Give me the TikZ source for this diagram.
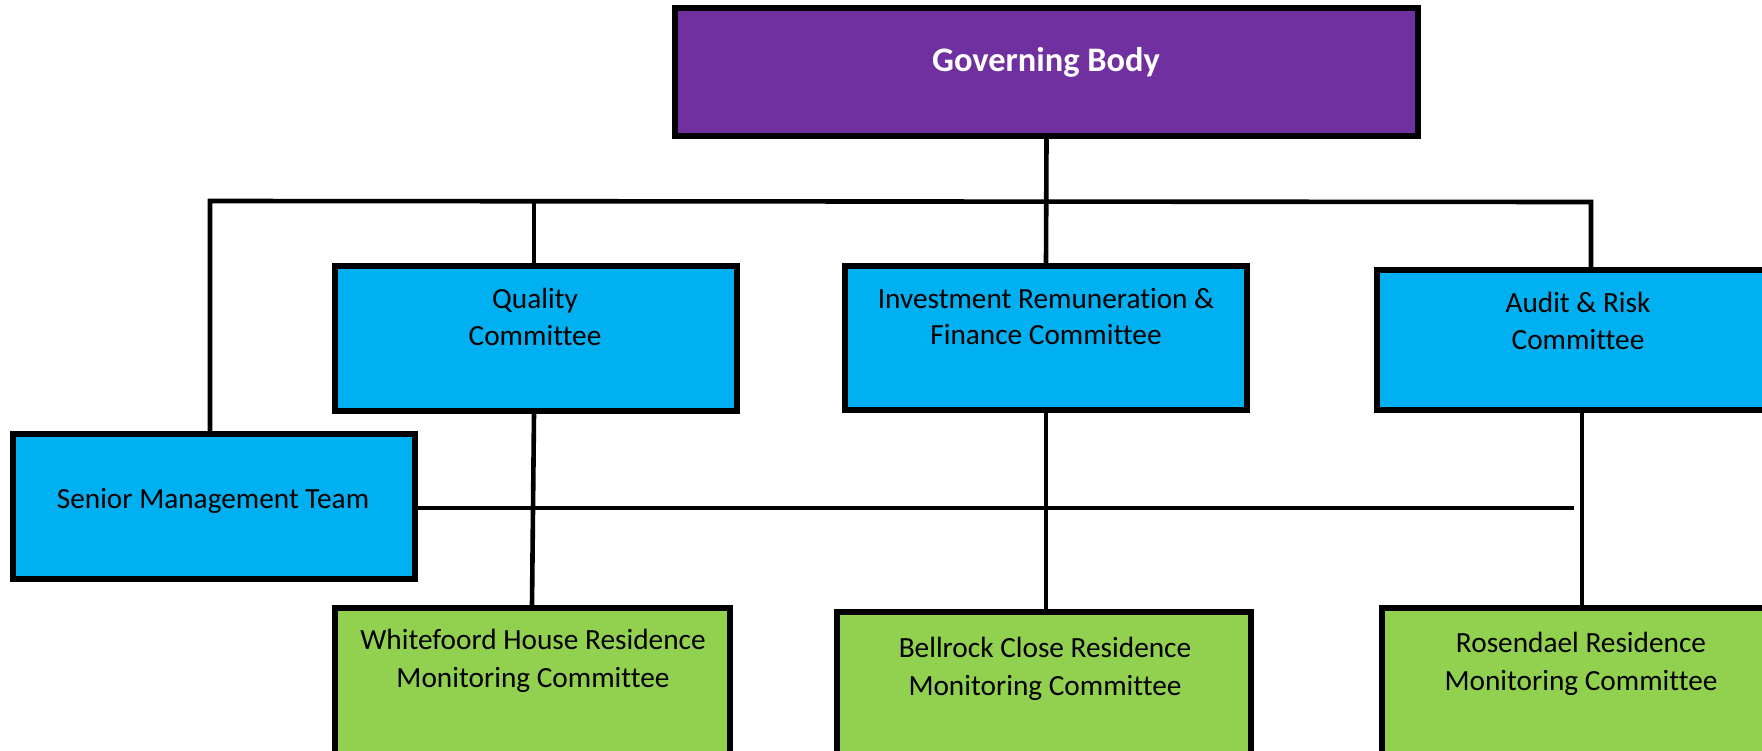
\documentclass[tikz,border=0pt]{standalone}
\usepackage{fontspec}
\setmainfont{Carlito}[Ligatures=NoCommon]
\definecolor{gbpurple}{HTML}{7030A0}
\definecolor{cblue}{HTML}{00B0F0}
\definecolor{rgreen}{HTML}{92D050}
\begin{document}
\begin{tikzpicture}[x=0.5pt,y=-0.5pt,
  box/.style={draw=black,line width=2.6pt,rectangle,inner sep=0pt},
  gbbox/.style={box,fill=gbpurple},
  bluebox/.style={box,fill=cblue},
  greenbox/.style={box,fill=rgreen},
  lbl/.style={inner sep=0pt,align=center,font=\fontsize{14.65}{18.3}\selectfont},
  glbl/.style={inner sep=0pt,align=center,font=\fontsize{14.65}{19}\selectfont},
  gblbl/.style={inner sep=0pt,align=center,text=white,font=\fontsize{17.2}{20}\selectfont\bfseries},
  conn/.style={draw=black,line width=2.3pt},
  connthin/.style={draw=black,line width=2.1pt}]
\useasboundingbox (0,0) rectangle (1762,750);
\clip (0,0) rectangle (1762,750);
% boxes
\node[gbbox,minimum width=371.5pt,minimum height=64pt] (gb) at (1046.5,72) {};
\node[gblbl] (gbt) at (1046,62) {Governing Body};
\node[bluebox,minimum width=201pt,minimum height=72.5pt] (qual) at (536,338.5) {};
\node[lbl] (qualt) at (535,317) {Quality\\Committee};
\node[bluebox,minimum width=201pt,minimum height=72pt] (inv) at (1046,338) {};
\node[lbl] (invt) at (1046,316.5) {Investment Remuneration \&\\Finance Committee};
\node[bluebox,minimum width=201pt,minimum height=70pt] (aud) at (1578,340) {};
\node[lbl] (audt) at (1578,321) {Audit \& Risk\\Committee};
\node[bluebox,minimum width=201pt,minimum height=72.5pt] (smt) at (214,506.5) {};
\node[lbl] (smtt) at (213,501) {Senior Management Team};
\node[greenbox,minimum width=197.5pt,minimum height=90pt] (wh) at (532.5,698) {};
\node[glbl] (wht) at (533,661) {Whitefoord House Residence\\Monitoring Committee};
\node[greenbox,minimum width=207pt,minimum height=90pt] (bel) at (1044,702) {};
\node[glbl] (belt) at (1045,669) {Bellrock Close Residence\\Monitoring Committee};
\node[greenbox,minimum width=199pt,minimum height=90pt] (ros) at (1581,698) {};
\node[glbl] (rost) at (1581,664) {Rosendael Residence\\Monitoring Committee};
% connectors
\coordinate (busL) at (210,201);
\coordinate (busR) at (1591,202);
\coordinate (midR) at (1574,508);
\draw[conn] (gb.south) -- (inv.north);
\draw[conn] (smt.north -| busL) -- (busL) -- (busR) -- (aud.north -| busR);
\draw[conn] (qual.north -| 534,0) -- (534,201);
\draw[connthin] (smt.east |- midR) -- (midR);
\draw[conn] (qual.south -| 534,0) -- (wh.north -| 532,0);
\draw[conn] (inv.south) -- (bel.north -| inv.south);
\draw[conn] (aud.south -| 1582,0) -- (ros.north -| 1582,0);
\end{tikzpicture}
\end{document}
